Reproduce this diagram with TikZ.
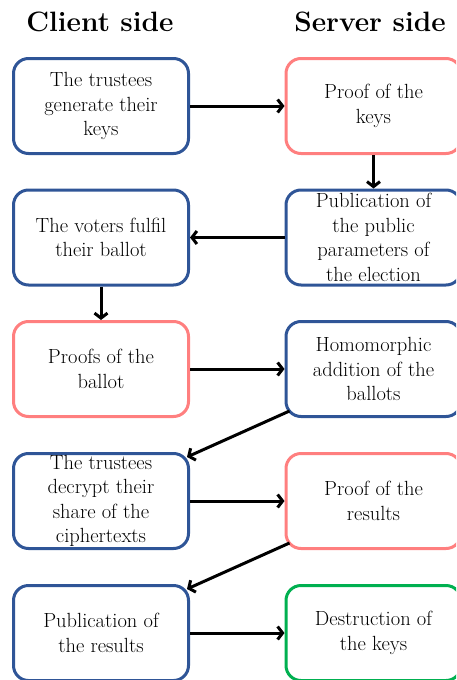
\documentclass[tikz,border=0pt]{standalone}
\usetikzlibrary{arrows.meta}
\definecolor{bblue}{HTML}{2F5597}
\definecolor{bpink}{HTML}{FF7F7F}
\definecolor{bgreen}{HTML}{00B050}
\begin{document}
\begin{tikzpicture}[x=1pt,y=-1pt,
  stepbox/.style={draw, line width=3pt, rounded corners=15pt, minimum width=175pt, minimum height=95pt,
    align=center, inner sep=0pt, font=\fontsize{20.5}{24.5}\selectfont},
  blu/.style={stepbox, draw=bblue},
  pnk/.style={stepbox, draw=bpink},
  grn/.style={stepbox, draw=bgreen},
  title/.style={font=\fontsize{28}{32}\selectfont\bfseries, anchor=base},
  arr/.style={-{Straight Barb[length=5pt,width=13pt]}, line width=3pt}]
\useasboundingbox (0,0) rectangle (456,680);
\clip (0,0) rectangle (456,680);
\node[title] (tc) at (100,31) {Client side};
\node[title] (ts) at (370,31) {Server side};
\node[blu] (l1) at (101,106) {The trustees\\generate their\\keys};
\node[pnk] (r1) at (373.5,106) {Proof of the\\keys};
\node[blu] (r2) at (373.5,237.5) {Publication of\\the public\\parameters of\\the election};
\node[blu] (l2) at (101,237.5) {The voters fulfil\\their ballot};
\node[pnk] (l3) at (101,369) {Proofs of the\\ballot};
\node[blu] (r3) at (373.5,369) {Homomorphic\\addition of the\\ballots};
\node[blu] (l4) at (101,501) {The trustees\\decrypt their\\share of the\\ciphertexts};
\node[pnk] (r4) at (373.5,501) {Proof of the\\results};
\node[blu] (l5) at (101,633) {Publication of\\the results};
\node[grn] (r5) at (373.5,633) {Destruction of\\the keys};
\draw[arr] (l1) -- (r1);
\draw[arr] (r1) -- (r2);
\draw[arr] (r2) -- (l2);
\draw[arr] (l2) -- (l3);
\draw[arr] (l3) -- (r3);
\draw[arr] ([xshift=5pt,yshift=7pt]r3.south west) -- ([xshift=-3pt,yshift=-5pt]l4.north east);
\draw[arr] (l4) -- (r4);
\draw[arr] ([xshift=5pt,yshift=7pt]r4.south west) -- ([xshift=-3pt,yshift=-5pt]l5.north east);
\draw[arr] (l5) -- (r5);
\end{tikzpicture}
\end{document}
